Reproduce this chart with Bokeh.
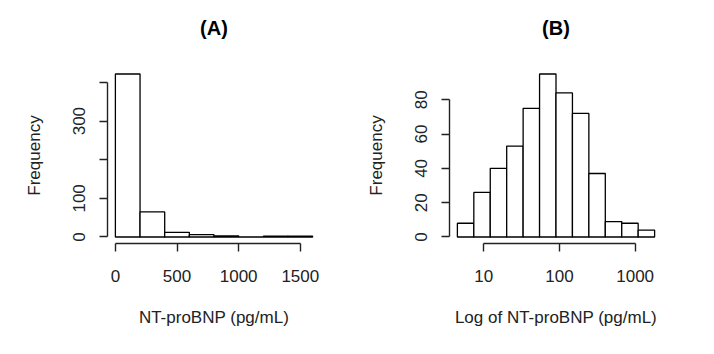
import numpy as np
from bokeh.plotting import figure
from bokeh.layouts import row
from bokeh.models import Range1d, FixedTicker, LinearAxis, LogAxis
from bokeh.embed import file_html
from bokeh.resources import INLINE

# Panel A: raw NT-proBNP histogram
breaks_a = [0, 200, 400, 600, 800, 1000, 1200, 1400, 1600]
counts_a = [422, 65, 12, 6, 3, 0, 2, 2]
xticks_a = [0, 500, 1000, 1500]
yticks_a = [0, 100, 200, 300, 400]
ylabels_a = {0: "0", 100: "100", 200: "", 300: "300", 400: ""}

# Panel B: histogram of ln(NT-proBNP), breaks in natural-log units
breaks_b_ln = [1.5, 2.0, 2.5, 3.0, 3.5, 4.0, 4.5, 5.0, 5.5, 6.0, 6.5, 7.0, 7.5]
counts_b = [8, 26, 40, 53, 75, 95, 84, 72, 37, 9, 8, 4]
xticks_b = [10, 100, 1000]
yticks_b = [0, 20, 40, 60, 80]

titles = ["(A)", "(B)"]

FONT = "Liberation Sans"
TXT = "#222222"
FS = "17px"


def style(p, xlabel):
    p.background_fill_color = "white"
    p.border_fill_color = "white"
    p.outline_line_color = None
    p.xgrid.visible = False
    p.ygrid.visible = False
    for ax in (p.xaxis[0], p.yaxis[0]):
        ax.axis_line_color = TXT
        ax.axis_line_width = 1.4
        ax.major_tick_line_color = TXT
        ax.major_tick_line_width = 1.4
        ax.major_tick_out = 8
        ax.major_tick_in = 0
        ax.minor_tick_line_color = None
        ax.major_label_text_font = FONT
        ax.major_label_text_font_size = FS
        ax.major_label_text_color = TXT
        ax.axis_label_text_font = FONT
        ax.axis_label_text_font_size = FS
        ax.axis_label_text_font_style = "normal"
        ax.axis_label_text_color = TXT
    p.xaxis.axis_label = xlabel
    p.yaxis.axis_label = "Frequency"
    p.xaxis.major_label_standoff = 18
    p.xaxis.axis_label_standoff = 23
    p.yaxis.major_label_standoff = 14
    p.yaxis.axis_label_standoff = 27
    p.yaxis.major_label_orientation = "vertical"


def add_title(p, text, axis_cls):
    # title drawn as the label of a bare axis above the frame
    t = axis_cls(ticker=FixedTicker(ticks=[]), axis_label=text)
    t.axis_line_color = None
    t.major_tick_line_color = None
    t.minor_tick_line_color = None
    t.major_tick_out = 0
    t.major_tick_in = 0
    t.major_label_text_font_size = "0px"
    t.major_label_standoff = 0
    t.axis_label_standoff = 29
    t.axis_label_text_font = FONT
    t.axis_label_text_font_size = "20px"
    t.axis_label_text_font_style = "bold"
    t.axis_label_text_color = "black"
    p.add_layout(t, "above")


# ---- Panel A ----
xa0, xa1 = breaks_a[0], breaks_a[-1]
ya1 = max(counts_a)
pa = figure(width=357, height=354, output_backend="svg", toolbar_location=None,
            x_range=Range1d(xa0 - 0.04 * (xa1 - xa0), xa1 + 0.04 * (xa1 - xa0)),
            y_range=Range1d(-0.04 * ya1, 1.04 * ya1),
            min_border_left=107, min_border_right=37,
            min_border_top=67, min_border_bottom=111)
pa.quad(left=breaks_a[:-1], right=breaks_a[1:], bottom=0, top=counts_a,
        fill_color="white", line_color="black", line_width=1.3)
style(pa, "NT-proBNP (pg/mL)")
pa.xaxis.ticker = FixedTicker(ticks=xticks_a)
pa.yaxis.ticker = FixedTicker(ticks=yticks_a)
pa.yaxis.major_label_overrides = ylabels_a
pa.xaxis.bounds = (xticks_a[0], xticks_a[-1])
pa.yaxis.bounds = (yticks_a[0], yticks_a[-1])
add_title(pa, titles[0], LinearAxis)

# ---- Panel B ----
edges_b = np.exp(np.array(breaks_b_ln))
lb0, lb1 = breaks_b_ln[0], breaks_b_ln[-1]
yb1 = max(counts_b)
pb = figure(width=357, height=354, output_backend="svg", toolbar_location=None,
            x_axis_type="log",
            x_range=Range1d(float(np.exp(lb0 - 0.04 * (lb1 - lb0))),
                            float(np.exp(lb1 + 0.04 * (lb1 - lb0)))),
            y_range=Range1d(-0.04 * yb1, 1.04 * yb1),
            min_border_left=92, min_border_right=52,
            min_border_top=67, min_border_bottom=111)
pb.quad(left=edges_b[:-1], right=edges_b[1:], bottom=0, top=counts_b,
        fill_color="white", line_color="black", line_width=1.3)
style(pb, "Log of NT-proBNP (pg/mL)")
pb.xaxis.ticker = FixedTicker(ticks=xticks_b)
pb.xaxis.major_label_overrides = {t: str(t) for t in xticks_b}
pb.yaxis.ticker = FixedTicker(ticks=yticks_b)
pb.xaxis.bounds = (xticks_b[0], xticks_b[-1])
pb.yaxis.bounds = (yticks_b[0], yticks_b[-1])
add_title(pb, titles[1], LogAxis)

layout = row(pa, pb)
open("out.html", "w").write(file_html(layout, INLINE))
